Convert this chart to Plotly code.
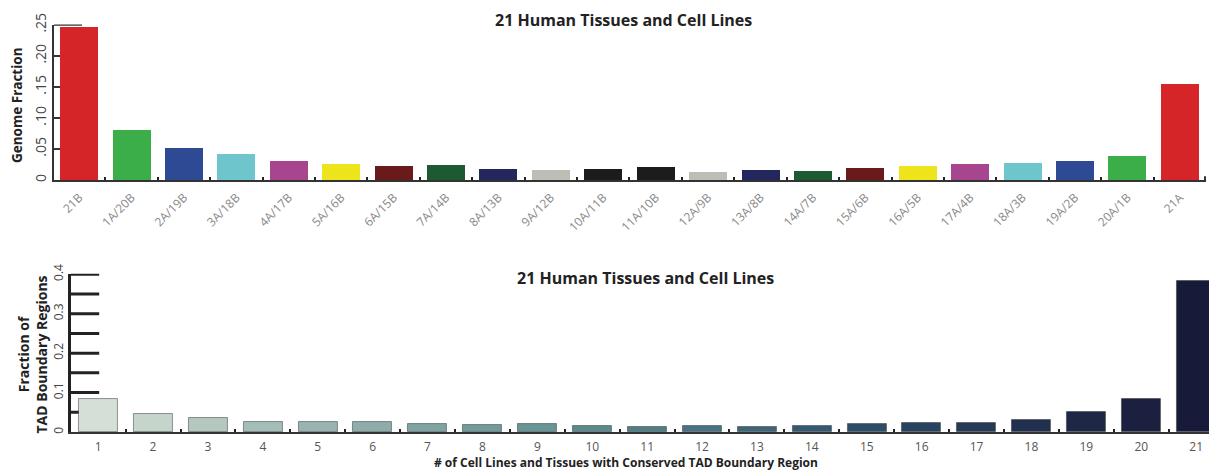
import plotly.graph_objects as go

# browser viewport is 1217x473; page body has an 8px margin
VW, VH = 1217, 473
OFF = 8
W, H = VW - OFF, VH - OFF

# ---- top chart data ----
top_categories = ["21B", "1A/20B", "2A/19B", "3A/18B", "4A/17B", "5A/16B", "6A/15B",
                  "7A/14B", "8A/13B", "9A/12B", "10A/11B", "11A/10B", "12A/9B", "13A/8B",
                  "14A/7B", "15A/6B", "16A/5B", "17A/4B", "18A/3B", "19A/2B", "20A/1B", "21A"]
top_values = [0.248, 0.081, 0.052, 0.043, 0.031, 0.026, 0.023,
              0.025, 0.019, 0.017, 0.019, 0.021, 0.0145, 0.017,
              0.016, 0.020, 0.0226, 0.026, 0.0285, 0.032, 0.040, 0.156]
top_colors = ["#d62528", "#3cae49", "#2e4a94", "#6ec6cc", "#a8458f", "#eee41c", "#6b1a1c",
              "#1d5a32", "#23275e", "#bdbdb5", "#1c1c1c", "#1c1c1c", "#bdbdb5", "#23275e",
              "#1d5a32", "#6b1a1c", "#eee41c", "#a8458f", "#6ec6cc", "#2e4a94", "#3cae49", "#d62528"]
top_tickvals = [0, 0.05, 0.10, 0.15, 0.20, 0.25]
top_ticktext = ["0", ".05", ".10", ".15", ".20", ".25"]

# ---- bottom chart data ----
bottom_categories = [str(i) for i in range(1, 22)]
bottom_values = [0.085, 0.045, 0.035, 0.027, 0.027, 0.027, 0.022, 0.0195, 0.020, 0.016,
                 0.0135, 0.015, 0.014, 0.016, 0.022, 0.0245, 0.024, 0.031, 0.0506, 0.084, 0.383]
bottom_colors = ["#d3dfd7", "#c5d5cc", "#b4c8c0", "#a3bdb8", "#98b4b0", "#8eacaa", "#7ea3a3",
                 "#729b9c", "#689596", "#5b8b8e", "#4f7f87", "#477382", "#3d6679", "#345a72",
                 "#2d4e69", "#28435f", "#243a56", "#21304f", "#1e2846", "#1b2040", "#181a3a"]
bottom_tickvals = [0, 0.1, 0.2, 0.3, 0.4]
bottom_ticktext = ["0", "0.1", "0.2", "0.3", "0.4"]
bottom_long_ticks = [0.1, 0.15, 0.2, 0.25, 0.3, 0.35, 0.4]
bottom_short_ticks = [0.05]

title_text = "21 Human Tissues and Cell Lines"
FONT = "Open Sans"

fig = go.Figure()
fig.add_trace(go.Bar(x=top_categories, y=top_values, marker=dict(color=top_colors, line=dict(width=0)),
                     width=0.725, xaxis="x", yaxis="y", showlegend=False))
fig.add_trace(go.Bar(x=bottom_categories, y=bottom_values,
                     marker=dict(color=bottom_colors, line=dict(width=0.5, color="#333")),
                     width=0.71, xaxis="x2", yaxis="y2", showlegend=False))

def px_x(p):
    return (p - OFF) / W

def px_y(p):
    return (VH - p) / H

top_x0, top_x1 = 54, 1206
bot_x0 = 70.7

fig.update_layout(
    width=W, height=H, margin=dict(l=0, r=0, t=0, b=0, autoexpand=False),
    paper_bgcolor="white", plot_bgcolor="white",
    font=dict(family=FONT, color="#333"),
    xaxis=dict(domain=[px_x(top_x0), px_x(top_x1)], range=[-0.48, 21.5], anchor="y", automargin=False,
               showline=True, linecolor="#333", linewidth=2,
               ticks="inside", ticklen=3, tickwidth=2, tickcolor="#222", tickson="boundaries",
               tickangle=-45, tickfont=dict(size=12, color="#888", family=FONT), ticklabelstandoff=4,
               showgrid=False, zeroline=False),
    yaxis=dict(domain=[px_y(180), px_y(24.5)], range=[0, 0.2505], anchor="x", automargin=False,
               showline=True, linecolor="#333", linewidth=2,
               ticks="inside", ticklen=6, tickwidth=2, tickcolor="#333",
               tickvals=top_tickvals, ticktext=top_ticktext, tickangle=-90,
               tickfont=dict(size=14, color="#444", family=FONT),
               showgrid=False, zeroline=False),
    xaxis2=dict(domain=[px_x(bot_x0), 1.0], range=[-0.5, 20.38], anchor="y2", automargin=False,
                showline=True, linecolor="#333", linewidth=2,
                ticks="inside", ticklen=3, tickwidth=2, tickcolor="#222", tickson="boundaries",
                tickfont=dict(size=12, color="#555", family=FONT), ticklabelstandoff=3,
                showgrid=False, zeroline=False),
    yaxis2=dict(domain=[px_y(432), px_y(273.8)], range=[0, 0.4012], anchor="x2", automargin=False,
                showline=True, linecolor="#222", linewidth=3,
                ticks="", tickmode="array", tickvals=bottom_tickvals, ticktext=bottom_ticktext,
                tickangle=-90, tickfont=dict(size=12, color="#444", family=FONT),
                showgrid=False, zeroline=False),
    bargap=0,
)

shapes = []
# long ticks on bottom y axis
for v in bottom_long_ticks:
    shapes.append(dict(type="line", xref="paper", yref="y2",
                       x0=px_x(bot_x0), x1=px_x(bot_x0 + 28.5), y0=v, y1=v,
                       line=dict(color="#222", width=3)))
for v in bottom_short_ticks:
    shapes.append(dict(type="line", xref="paper", yref="y2",
                       x0=px_x(bot_x0), x1=px_x(bot_x0 + 8), y0=v, y1=v,
                       line=dict(color="#222", width=3)))
# cap tick at top of the top y axis
shapes.append(dict(type="line", xref="paper", yref="y",
                   x0=px_x(top_x0), x1=px_x(top_x0 + 28), y0=top_tickvals[-1], y1=top_tickvals[-1],
                   line=dict(color="#333", width=2)))
# end hook of top x axis
shapes.append(dict(type="line", xref="paper", yref="y",
                   x0=px_x(top_x1 - 1), x1=px_x(top_x1 - 1), y0=0, y1=0.006,
                   line=dict(color="#333", width=2)))
fig.update_layout(shapes=shapes)

annotations = [
    dict(text="<b>" + title_text + "</b>", x=px_x(623), y=px_y(20), xref="paper", yref="paper",
         showarrow=False, font=dict(size=16, color="#222", family=FONT), xanchor="center", yanchor="middle"),
    dict(text="<b>" + title_text + "</b>", x=px_x(645), y=px_y(278), xref="paper", yref="paper",
         showarrow=False, font=dict(size=16, color="#222", family=FONT), xanchor="center", yanchor="middle"),
    dict(text="<b>Genome Fraction</b>", x=px_x(17), y=px_y(105), xref="paper", yref="paper",
         showarrow=False, textangle=-90, font=dict(size=13.5, color="#222", family=FONT),
         xanchor="center", yanchor="middle"),
    dict(text="<b>Fraction of<br>TAD Boundary Regions</b>", x=px_x(31.5), y=px_y(355), xref="paper", yref="paper",
         showarrow=False, textangle=-90, font=dict(size=14, color="#222", family=FONT),
         xanchor="center", yanchor="middle"),
    dict(text="<b># of Cell Lines and Tissues with Conserved TAD Boundary Region</b>",
         x=px_x(626), y=px_y(462), xref="paper", yref="paper",
         showarrow=False, font=dict(size=12, color="#222", family=FONT), xanchor="center", yanchor="middle"),
]
fig.update_layout(annotations=annotations)

fig.write_html("out.html")
